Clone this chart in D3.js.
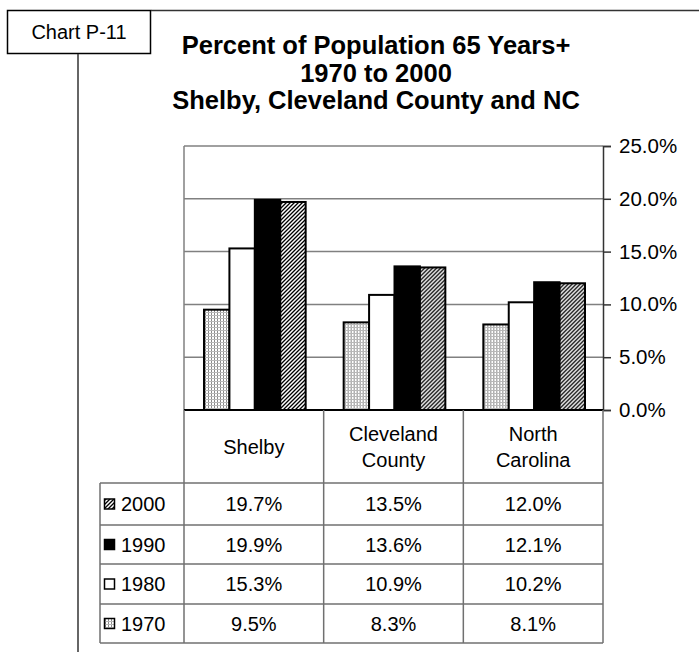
<!DOCTYPE html>
<html>
<head>
<meta charset="utf-8">
<script src="https://cdn.jsdelivr.net/npm/d3@7"></script>
<style>
  html, body { margin: 0; padding: 0; background: #fff; }
  svg { display: block; font-family: Arial, "Liberation Sans", sans-serif; }
</style>
</head>
<body>
<svg id="chart" width="699" height="654"></svg>
<script>
// Share of residents aged 65 and over, by place and census year
const places = ["Shelby", "Cleveland County", "North Carolina"];
const placeLines = [["Shelby"], ["Cleveland", "County"], ["North", "Carolina"]];
const years = ["1970", "1980", "1990", "2000"];
const tableYears = ["2000", "1990", "1980", "1970"];
const pct1970 = [9.5, 8.3, 8.1];
const pct1980 = [15.3, 10.9, 10.2];
const pct1990 = [19.9, 13.6, 12.1];
const pct2000 = [19.7, 13.5, 12.0];
const yTicks = [0, 5, 10, 15, 20, 25];
const titleLines = ["Percent of Population 65 Years+", "1970 to 2000", "Shelby, Cleveland County and NC"];

const valuesByYear = { "1970": pct1970, "1980": pct1980, "1990": pct1990, "2000": pct2000 };

const svg = d3.select("#chart");
const defs = svg.append("defs");

// fine grid fill for 1970
const pGrid = defs.append("pattern").attr("id", "fill1970")
  .attr("patternUnits", "userSpaceOnUse").attr("width", 3).attr("height", 3);
pGrid.append("rect").attr("width", 3).attr("height", 3).attr("fill", "#fff");
pGrid.append("rect").attr("x", 0).attr("y", 0).attr("width", 1).attr("height", 3).attr("fill", "#8a8a8a");
pGrid.append("rect").attr("x", 0).attr("y", 0).attr("width", 3).attr("height", 1).attr("fill", "#b8b8b8");

// dense diagonal fill for 2000
const pDiag = defs.append("pattern").attr("id", "fill2000")
  .attr("patternUnits", "userSpaceOnUse").attr("width", 4).attr("height", 4);
pDiag.append("rect").attr("width", 4).attr("height", 4).attr("fill", "#fff");
d3.range(16).forEach(k => {
  const px = k % 4, py = Math.floor(k / 4), m = (px + py) % 4;
  const c = m === 0 ? "#000" : (m === 2 ? null : "#8c8c8c");
  if (c) pDiag.append("rect").attr("x", px).attr("y", py).attr("width", 1).attr("height", 1).attr("fill", c);
});

const fills = { "1970": "url(#fill1970)", "1980": "#fff", "1990": "#000", "2000": "url(#fill2000)" };

// page frame: label box, top rule, left rule
svg.append("rect").attr("x", 7.5).attr("y", 10.5).attr("width", 143).attr("height", 43)
  .attr("fill", "#fff").attr("stroke", "#000").attr("stroke-width", 1.5);
svg.append("text").attr("x", 79).attr("y", 39).attr("text-anchor", "middle")
  .attr("font-size", 20).text("Chart P-11");
svg.append("line").attr("x1", 151).attr("x2", 699).attr("y1", 10.5).attr("y2", 10.5)
  .attr("stroke", "#333").attr("stroke-width", 1.5);
svg.append("line").attr("x1", 78).attr("x2", 78).attr("y1", 54).attr("y2", 652)
  .attr("stroke", "#333").attr("stroke-width", 1.5);

// title
svg.append("g").selectAll("text").data(titleLines).join("text")
  .attr("x", 376).attr("y", (d, i) => 54 + i * 27.5)
  .attr("text-anchor", "middle").attr("font-weight", "bold").attr("font-size", 25.5)
  .text(d => d);

// scales
const plotLeft = 184, plotRight = 603, plotTop = 146, plotBottom = 410;
const x0 = d3.scaleBand().domain(places).range([plotLeft, plotRight]).padding(0);
const x1 = d3.scaleBand().domain(years).range([20, x0.bandwidth() - 18]).padding(0);
const y = d3.scaleLinear().domain([0, 25]).range([plotBottom, plotTop]);

// plot frame and gridlines
svg.append("g").selectAll("line").data(yTicks.filter(t => t > 0)).join("line")
  .attr("x1", plotLeft).attr("x2", plotRight).attr("y1", d => y(d)).attr("y2", d => y(d))
  .attr("stroke", "#808080").attr("stroke-width", 1.5);
svg.append("line").attr("x1", plotLeft).attr("x2", plotLeft).attr("y1", plotTop).attr("y2", plotBottom)
  .attr("stroke", "#808080").attr("stroke-width", 1.5);

// bars
const groups = svg.append("g").selectAll("g").data(places).join("g")
  .attr("transform", d => `translate(${x0(d)},0)`);
groups.selectAll("rect").data((d, i) => years.map(yr => ({ yr, v: valuesByYear[yr][i] }))).join("rect")
  .attr("x", d => x1(d.yr)).attr("width", x1.bandwidth())
  .attr("y", d => y(d.v)).attr("height", d => y(0) - y(d.v))
  .attr("fill", d => fills[d.yr]).attr("stroke", "#000").attr("stroke-width", 2);

// right value axis
const axis = svg.append("g").attr("transform", `translate(${plotRight},0)`)
  .call(d3.axisRight(y).tickValues(yTicks).tickFormat(d => d.toFixed(1) + "%").tickSize(8).tickPadding(8));
axis.select(".domain").attr("stroke", "#333").attr("stroke-width", 1.5);
axis.selectAll(".tick line").attr("stroke", "#333").attr("stroke-width", 1.5);
axis.selectAll(".tick text").attr("font-size", 20.5).attr("fill", "#000")
  .attr("font-family", "Arial, 'Liberation Sans', sans-serif");

// baseline
svg.append("line").attr("x1", plotLeft).attr("x2", plotRight).attr("y1", y(0)).attr("y2", y(0))
  .attr("stroke", "#000").attr("stroke-width", 2);

// data table below the plot
const headBottom = 483;
const rowEdges = [483, 525, 564, 604, 643];
const legendLeft = 100;
const tableStroke = "#707070";
const tbl = svg.append("g").attr("stroke", tableStroke).attr("stroke-width", 1.5);
[plotLeft, x0("Cleveland County"), x0("North Carolina"), plotRight].forEach(cx =>
  tbl.append("line").attr("x1", cx).attr("x2", cx).attr("y1", plotBottom).attr("y2", rowEdges[4]));
tbl.append("line").attr("x1", legendLeft).attr("x2", legendLeft).attr("y1", rowEdges[0]).attr("y2", rowEdges[4]);
rowEdges.forEach(ry =>
  tbl.append("line").attr("x1", legendLeft).attr("x2", plotRight).attr("y1", ry).attr("y2", ry));

const fs = 20;
// category headers
places.forEach((p, i) => {
  const lines = placeLines[i];
  const cx = x0(p) + x0.bandwidth() / 2;
  const mid = (plotBottom + headBottom) / 2;
  lines.forEach((ln, j) => {
    svg.append("text").attr("x", cx)
      .attr("y", mid + 7 + (j - (lines.length - 1) / 2) * 26)
      .attr("text-anchor", "middle").attr("font-size", fs).text(ln);
  });
});

// table rows: legend key + values
tableYears.forEach((yr, r) => {
  const cy = (rowEdges[r] + rowEdges[r + 1]) / 2;
  svg.append("rect").attr("x", 104.5).attr("y", cy - 5).attr("width", 10).attr("height", 10)
    .attr("fill", fills[yr]).attr("stroke", "#000").attr("stroke-width", 1.5);
  svg.append("text").attr("x", 121).attr("y", cy + 7).attr("font-size", fs).text(yr);
  places.forEach((p, i) => {
    svg.append("text").attr("x", x0(p) + x0.bandwidth() / 2).attr("y", cy + 7)
      .attr("text-anchor", "middle").attr("font-size", fs)
      .text(valuesByYear[yr][i].toFixed(1) + "%");
  });
});
</script>
</body>
</html>
